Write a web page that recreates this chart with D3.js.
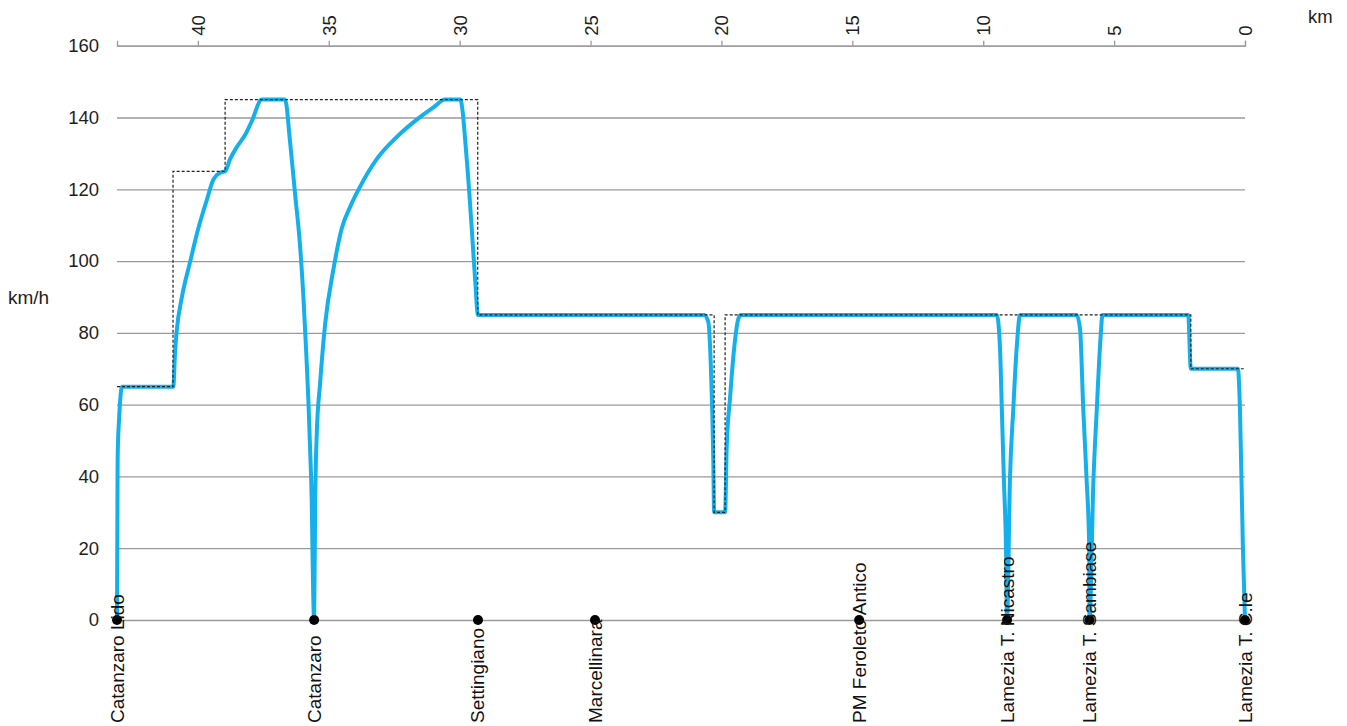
<!DOCTYPE html>
<html>
<head>
<meta charset="utf-8">
<script src="https://cdn.jsdelivr.net/npm/d3@7"></script>
<style>
html,body{margin:0;padding:0;background:#fff;}
svg{display:block;font-family:"Liberation Sans",Arial,sans-serif;}
</style>
</head>
<body>
<svg id="chart" width="1347" height="726"></svg>
<script>
// ---- data ----
const speedKm = [43.09,43.08,43.07,43.06,43.01,42.97,42.90,
  40.94,40.87,40.81,40.61,40.30,39.98,39.66,39.41,39.15,38.96,38.77,38.51,38.20,37.94,37.56,
  36.67,36.48,36.29,36.10,35.97,35.87,35.78,35.71,35.65,35.61,35.56,
  35.52,35.46,35.33,35.14,34.82,34.50,34.19,33.80,33.17,32.40,31.64,31.00,30.56,
  29.98,29.73,29.54,29.41,29.30,
  20.66,20.50,20.41,20.35,20.31,20.28,19.86,19.80,19.67,19.55,19.35,19.26,
  9.48,9.36,9.29,9.21,9.13,9.09,8.98,8.85,8.72,8.59,
  6.43,6.30,6.18,6.05,5.95,5.94,5.79,5.66,5.54,5.44,
  2.17,2.07,0.27,0.19,0.08,0];
const speedKmh = [0,20,40,47,56,61,65,
  65,75,80.5,90,99.7,109.2,117,122.7,124.6,125,128.4,131.8,135.1,139,145,
  145,133.3,118.9,104.5,90.1,75.8,61.4,47,32.6,13.5,0,
  32.6,51.8,66.1,82.4,97.8,109.2,115,120.8,128.4,134.6,139.4,142.8,145,
  145,128.4,109.2,94.9,85,
  85,83,72,58,44,30,30,48,62,73,84,85,
  85,76,59,39,20,0,39,59,76,85,
  85,81,59,39,20,0,39,59,76,85,
  85,70,70,58,20,0];
const limitKm = [43.09,40.95,38.96,29.31,20.28,19.86,2.07,0];
const limitKmh = [65,125,145,85,30,85,70,70];
const stationNames = ["Catanzaro Lido","Catanzaro","Settingiano","Marcellinara","PM Feroleto Antico","Lamezia T. Nicastro","Lamezia T. Sambiase","Lamezia T. C.le"];
const stationKm = [43.09,35.56,29.30,24.83,14.74,9.09,5.94,0];
const xTicks = [40,35,30,25,20,15,10,5,0];
const yTicks = [0,20,40,60,80,100,120,140,160];

// ---- layout ----
const svg = d3.select("#chart");
const x = d3.scaleLinear().domain([43.09, 0]).range([117, 1245]);
const y = d3.scaleLinear().domain([0, 160]).range([620, 45.7]);
const gridColor = "#9a9a9a";
const textColor = "#1e1e1e";
const FONT = "'Liberation Sans',Arial,sans-serif";

// gridlines + y labels
const yAxis = d3.axisLeft(y).tickValues(yTicks).tickSize(-(1245-117)).tickPadding(18);
const gy = svg.append("g").attr("transform","translate(117,0)").call(yAxis);
gy.select(".domain").remove();
gy.selectAll(".tick line").attr("stroke", gridColor).attr("stroke-width", 1.3);
gy.selectAll(".tick text").attr("font-size", 18.5).attr("fill", textColor).attr("font-family", FONT);

// top km axis
const xAxis = d3.axisTop(x).tickValues(xTicks).tickSize(5).tickPadding(0);
const gx = svg.append("g").attr("transform", `translate(0,${y(160)})`).call(xAxis);
gx.select(".domain").attr("stroke", gridColor).attr("stroke-width", 1.3);
gx.selectAll(".tick line").attr("stroke", gridColor).attr("stroke-width", 1.3);
gx.selectAll(".tick text")
  .attr("font-size", 18.5).attr("fill", textColor).attr("font-family", FONT)
  .attr("text-anchor", "start")
  .attr("transform", "rotate(-90)")
  .attr("x", 10).attr("y", 0).attr("dy", "0.35em");

// unit labels
svg.append("text").attr("x", 1308).attr("y", 23).attr("font-size", 18.5).attr("fill", textColor).text("km");
svg.append("text").attr("x", 8).attr("y", 304).attr("font-size", 19).attr("fill", textColor).text("km/h");

// speed profile
const speedPts = speedKm.map((k,i)=>[k, speedKmh[i]]);
svg.append("path")
  .datum(speedPts)
  .attr("fill","none")
  .attr("stroke","#14b0ec")
  .attr("stroke-width",4)
  .attr("stroke-linejoin","round")
  .attr("stroke-linecap","round")
  .attr("d", d3.line().x(d=>x(d[0])).y(d=>y(d[1])).curve(d3.curveMonotoneX));

// speed limit (dashed step)
const limitPts = limitKm.map((k,i)=>[k, limitKmh[i]]);
svg.append("path")
  .datum(limitPts)
  .attr("fill","none")
  .attr("stroke","#222")
  .attr("stroke-width",1.2)
  .attr("stroke-dasharray","3,2")
  .attr("d", d3.line().x(d=>x(d[0])).y(d=>y(d[1])).curve(d3.curveStepAfter));

// stations
svg.append("g").selectAll("circle").data(stationKm).join("circle")
  .attr("cx", d=>x(d)).attr("cy", y(0)).attr("r", 5).attr("fill","#000");

svg.append("g").selectAll("text").data(stationNames).join("text")
  .attr("transform", (d,i)=>`translate(${x(stationKm[i])+6.5},723) rotate(-90)`)
  .attr("font-size", 19).attr("fill", "#111").attr("font-family", FONT)
  .attr("text-anchor","start")
  .text(d=>d);
</script>
</body>
</html>
